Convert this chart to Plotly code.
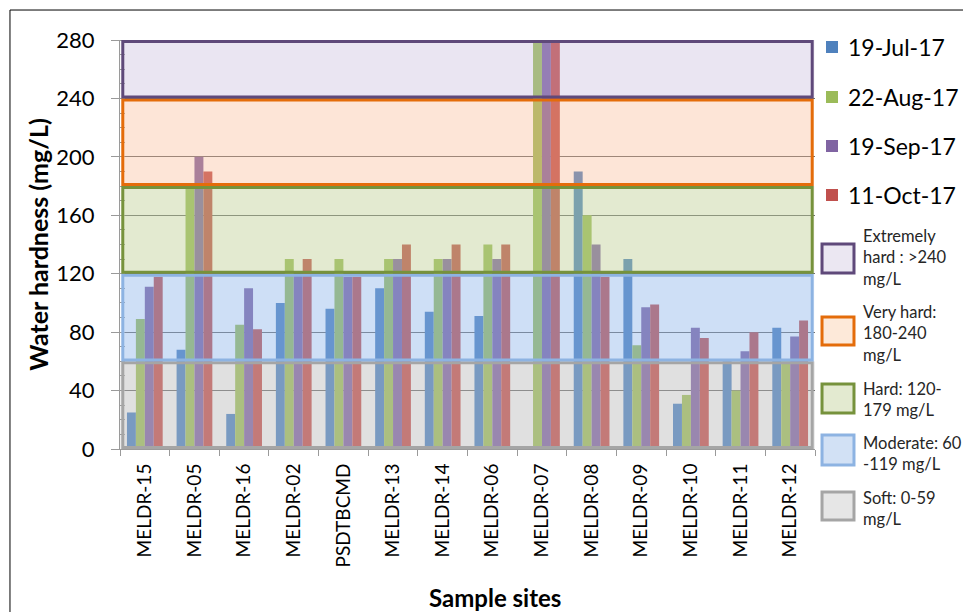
import plotly.graph_objects as go

sites = ["MELDR-15", "MELDR-05", "MELDR-16", "MELDR-02", "PSDTBCMD", "MELDR-13", "MELDR-14",
         "MELDR-06", "MELDR-07", "MELDR-08", "MELDR-09", "MELDR-10", "MELDR-11", "MELDR-12"]
jul17 = [25, 68, 24, 100, 96, 110, 94, 91, None, 190, 130, 31, 60, 83]
aug17 = [89, 180, 85, 130, 130, 130, 130, 140, 280, 160, 71, 37, 40, 60]
sep17 = [111, 200, 110, 119, 118, 130, 130, 130, 280, 140, 97, 83, 67, 77]
oct17 = [118, 190, 82, 130, 118, 140, 140, 140, 280, 118, 99, 76, 80, 88]
series_names = ["19-Jul-17", "22-Aug-17", "19-Sep-17", "11-Oct-17"]
series_colors = ["#4F81BD", "#9BBB59", "#8064A2", "#C0504D"]

# hardness classes
band_lows = [0, 60, 120, 180, 240]
band_highs = [60, 120, 180, 240, 280]
band_labels = ["Soft: 0-59<br>mg/L", "Moderate: 60<br>-119 mg/L", "Hard: 120-<br>179 mg/L",
               "Very hard:<br>180-240<br>mg/L", "Extremely<br>hard : >240<br>mg/L"]
band_under = ["#EDEDED", "#FAFCFE", "#FCFAF7", "#FFFFFF", "#F9F7F9"]
band_over = ["rgba(200,200,200,0.35)", "rgba(140,180,235,0.40)", "rgba(190,210,150,0.4)",
             "rgba(250,180,140,0.35)", "rgba(200,190,225,0.3)"]
band_swatch = ["#E6E6E6", "#D2E1F5", "#E3EAD0", "#FDE9D9", "#EBE7F2"]
band_edge = ["#A5A5A5", "#8DB3E2", "#76923C", "#E46C0A", "#5F497A"]

FONT = "Lato, 'Liberation Sans', sans-serif"

fig = go.Figure()
for name, vals, col in zip(series_names, [jul17, aug17, sep17, oct17], series_colors):
    fig.add_trace(go.Bar(x=sites, y=vals, name=name, marker=dict(color=col, line=dict(width=0)),
                         showlegend=False, hoverinfo="skip"))

shapes = []
for lo, hi, under in zip(band_lows, band_highs, band_under):
    shapes.append(dict(type="rect", xref="x domain", yref="y", x0=0, x1=1, y0=lo, y1=hi,
                       fillcolor=under, line=dict(width=0), layer="below"))
for lo, hi, over, edge in zip(band_lows, band_highs, band_over, band_edge):
    shapes.append(dict(type="rect", xref="x domain", yref="y", x0=0.004, x1=0.996,
                       y0=lo + 1, y1=hi - 1, fillcolor=over, line=dict(color=edge, width=3),
                       layer="above"))

# outer frame
shapes.append(dict(type="line", xref="paper", yref="paper", x0=-0.1583, x1=1.3, y0=1.0733, y1=1.0733,
                   line=dict(color="#000000", width=1)))
shapes.append(dict(type="line", xref="paper", yref="paper", x0=-0.1583, x1=-0.1583, y0=1.0733, y1=-0.5,
                   line=dict(color="#000000", width=1)))

annotations = []
# series legend
leg_y = [0.9829, 0.8606, 0.7408, 0.621]
for name, col, yy in zip(series_names, series_colors, leg_y):
    shapes.append(dict(type="rect", xref="paper", yref="paper", x0=1.0158, x1=1.0331,
                       y0=yy - 0.0147, y1=yy + 0.0147, fillcolor=col, line=dict(width=0)))
    annotations.append(dict(xref="paper", yref="paper", x=1.0446, y=yy, text=name, showarrow=False,
                            xanchor="left", yanchor="middle", font=dict(family=FONT, size=23, color="#000")))

# band legend (bottom to top: soft ... extremely)
box_y = [(-0.1736, -0.1051), (-0.0391, 0.0342), (0.088, 0.1589), (0.2543, 0.3227), (0.4303, 0.5012)]
text_y = [-0.1443, -0.0122, 0.1222, 0.2836, 0.467]
for (y0, y1), ty, sw, edge, lab in zip(box_y, text_y, band_swatch, band_edge, band_labels):
    shapes.append(dict(type="rect", xref="paper", yref="paper", x0=1.0101, x1=1.0561, y0=y0, y1=y1,
                       fillcolor=sw, line=dict(color=edge, width=3)))
    annotations.append(dict(xref="paper", yref="paper", x=1.0662, y=ty, text=lab, showarrow=False,
                            xanchor="left", yanchor="middle", align="left",
                            font=dict(family=FONT, size=16.5, color="#262626")))

annotations.append(dict(xref="paper", yref="paper", x=-0.119, y=0.5, text="<b>Water hardness (mg/L)</b>",
                        textangle=-90, showarrow=False, xanchor="center", yanchor="middle",
                        font=dict(family=FONT, size=25, color="#000")))
annotations.append(dict(xref="paper", yref="paper", x=0.54, y=-0.364, text="<b>Sample sites</b>",
                        showarrow=False, xanchor="center", yanchor="middle",
                        font=dict(family=FONT, size=24, color="#000")))

fig.update_layout(
    width=963, height=612,
    margin=dict(l=120, r=148, t=40, b=163),
    paper_bgcolor="white", plot_bgcolor="white",
    barmode="group", bargap=0.28, bargroupgap=0,
    shapes=shapes, annotations=annotations,
    font=dict(family=FONT, color="#000"),
    hovermode=False,
)
fig.update_xaxes(type="category", tickangle=-90, tickfont=dict(family=FONT, size=19, color="#000"),
                 showline=True, linecolor="#9A9A9A", linewidth=1, ticks="outside", ticklen=6,
                 tickcolor="#9A9A9A", tickson="boundaries", showgrid=False, range=[-0.5, 13.5],
                 ticklabelstandoff=6)
fig.update_yaxes(range=[0, 280], dtick=40, tick0=0, tickfont=dict(family=FONT, size=22, color="#000"),
                 showline=True, linecolor="#9A9A9A", linewidth=1, ticks="outside", ticklen=8,
                 tickcolor="#9A9A9A", showgrid=True, gridcolor="#6E6E6E", gridwidth=1, zeroline=False,
                 ticklabelstandoff=12,
                 minor=dict(dtick=10, ticks="inside", ticklen=5, tickcolor="#9A9A9A", showgrid=False))

fig.write_html("out.html", config={"displayModeBar": False},
               post_script="document.body.style.margin='0';document.body.style.overflow='hidden';")
